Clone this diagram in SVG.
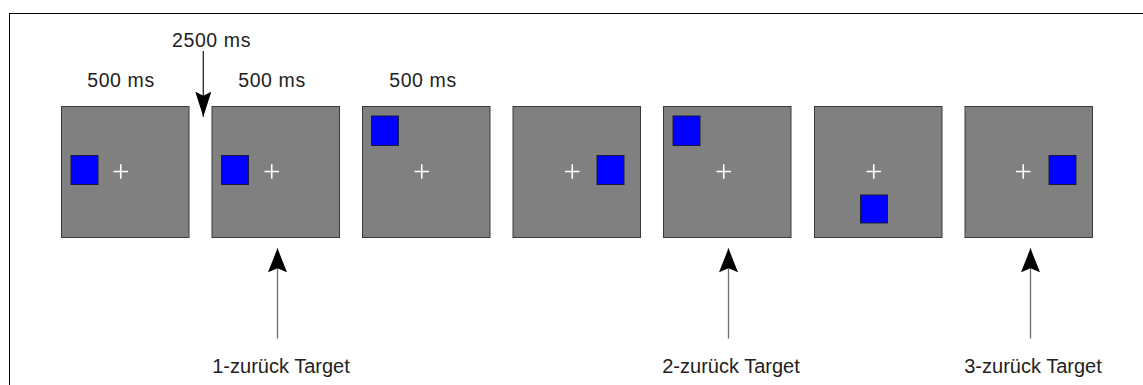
<svg xmlns="http://www.w3.org/2000/svg" width="1143" height="385" viewBox="0 0 1143 385">
<style>
.panel{fill:#808080;stroke:#3a3a3a;stroke-width:1}
.stim{fill:#0000ff;stroke:#1a1a3a;stroke-width:1}
.fix{stroke:#ffffff;stroke-width:1.6;fill:none}
.lbl{font-family:"Liberation Sans",Arial,sans-serif;font-size:20px;fill:#222;text-anchor:middle}
.tlbl{font-family:"Liberation Sans",Arial,sans-serif;font-size:19.5px;fill:#222;text-anchor:middle;letter-spacing:0.6px}
.conn-up{stroke:#6e6e6e;stroke-width:1.3;fill:none}
.conn-down{stroke:#222;stroke-width:1.3;fill:none}
</style>
<defs>
<marker id="headBig" viewBox="-24 -10 24 20" refX="0" refY="0" markerWidth="24" markerHeight="20" markerUnits="userSpaceOnUse" orient="auto">
<path d="M0,0 L-24,-9.5 L-20,0 L-24,9.5 Z" fill="#000"/>
</marker>
<marker id="headSmall" viewBox="-25 -8 25 16" refX="0" refY="0" markerWidth="25" markerHeight="16" markerUnits="userSpaceOnUse" orient="auto">
<path d="M0,0 L-25,-8 L-21,0 L-25,8 Z" fill="#000"/>
</marker>
</defs>
<rect width="1143" height="385" fill="#ffffff"/>
<rect x="9.5" y="13.5" width="1140" height="380" fill="none" stroke="#000" stroke-width="1"/>

<g id="panel1">
<rect class="panel" x="61.5" y="106.5" width="127.5" height="131"/>
<rect class="stim" x="71" y="155.5" width="27" height="29"/>
<path class="fix" d="M113.5,171.5 H128 M120.75,164.2 V178.8"/>
<text class="tlbl" x="121" y="86.5">500 ms</text>
</g>
<g id="panel2">
<rect class="panel" x="212" y="106.5" width="127.5" height="131"/>
<rect class="stim" x="221.5" y="155.5" width="27" height="29"/>
<path class="fix" d="M264.5,171.5 H279 M271.75,164.2 V178.8"/>
<text class="tlbl" x="272" y="86.5">500 ms</text>
</g>
<g id="panel3">
<rect class="panel" x="362.5" y="106.5" width="127.5" height="131"/>
<rect class="stim" x="371.5" y="116" width="27" height="29.5"/>
<path class="fix" d="M414.5,171.5 H429 M421.75,164.2 V178.8"/>
<text class="tlbl" x="423" y="86.5">500 ms</text>
</g>
<g id="panel4">
<rect class="panel" x="513" y="106.5" width="127.5" height="131"/>
<rect class="stim" x="597" y="155.5" width="27" height="29"/>
<path class="fix" d="M565,171.5 H579.5 M572.25,164.2 V178.8"/>
</g>
<g id="panel5">
<rect class="panel" x="663.5" y="106.5" width="127.5" height="131"/>
<rect class="stim" x="673" y="116" width="27" height="29.5"/>
<path class="fix" d="M716.5,171.5 H731 M723.75,164.2 V178.8"/>
</g>
<g id="panel6">
<rect class="panel" x="814.5" y="106.5" width="127.5" height="131"/>
<rect class="stim" x="860.5" y="195" width="27" height="28"/>
<path class="fix" d="M866.5,171.5 H881 M873.75,164.2 V178.8"/>
</g>
<g id="panel7">
<rect class="panel" x="965" y="106.5" width="127.5" height="131"/>
<rect class="stim" x="1049" y="155.5" width="27" height="29"/>
<path class="fix" d="M1016,171.5 H1030.5 M1023.25,164.2 V178.8"/>
</g>

<g id="connectors">
<line class="conn-down" x1="203.3" y1="51" x2="203.3" y2="116.7" marker-end="url(#headSmall)"/>
<line class="conn-up" x1="277.5" y1="338.5" x2="277.5" y2="248.3" marker-end="url(#headBig)"/>
<line class="conn-up" x1="728.5" y1="338.5" x2="728.5" y2="248.3" marker-end="url(#headBig)"/>
<line class="conn-up" x1="1030.5" y1="338.5" x2="1030.5" y2="248.3" marker-end="url(#headBig)"/>
</g>

<g id="labels">
<text class="tlbl" x="211.5" y="47">2500 ms</text>
<text class="lbl" x="281" y="373">1-zurück Target</text>
<text class="lbl" x="731" y="373">2-zurück Target</text>
<text class="lbl" x="1033" y="373">3-zurück Target</text>
</g>
</svg>
